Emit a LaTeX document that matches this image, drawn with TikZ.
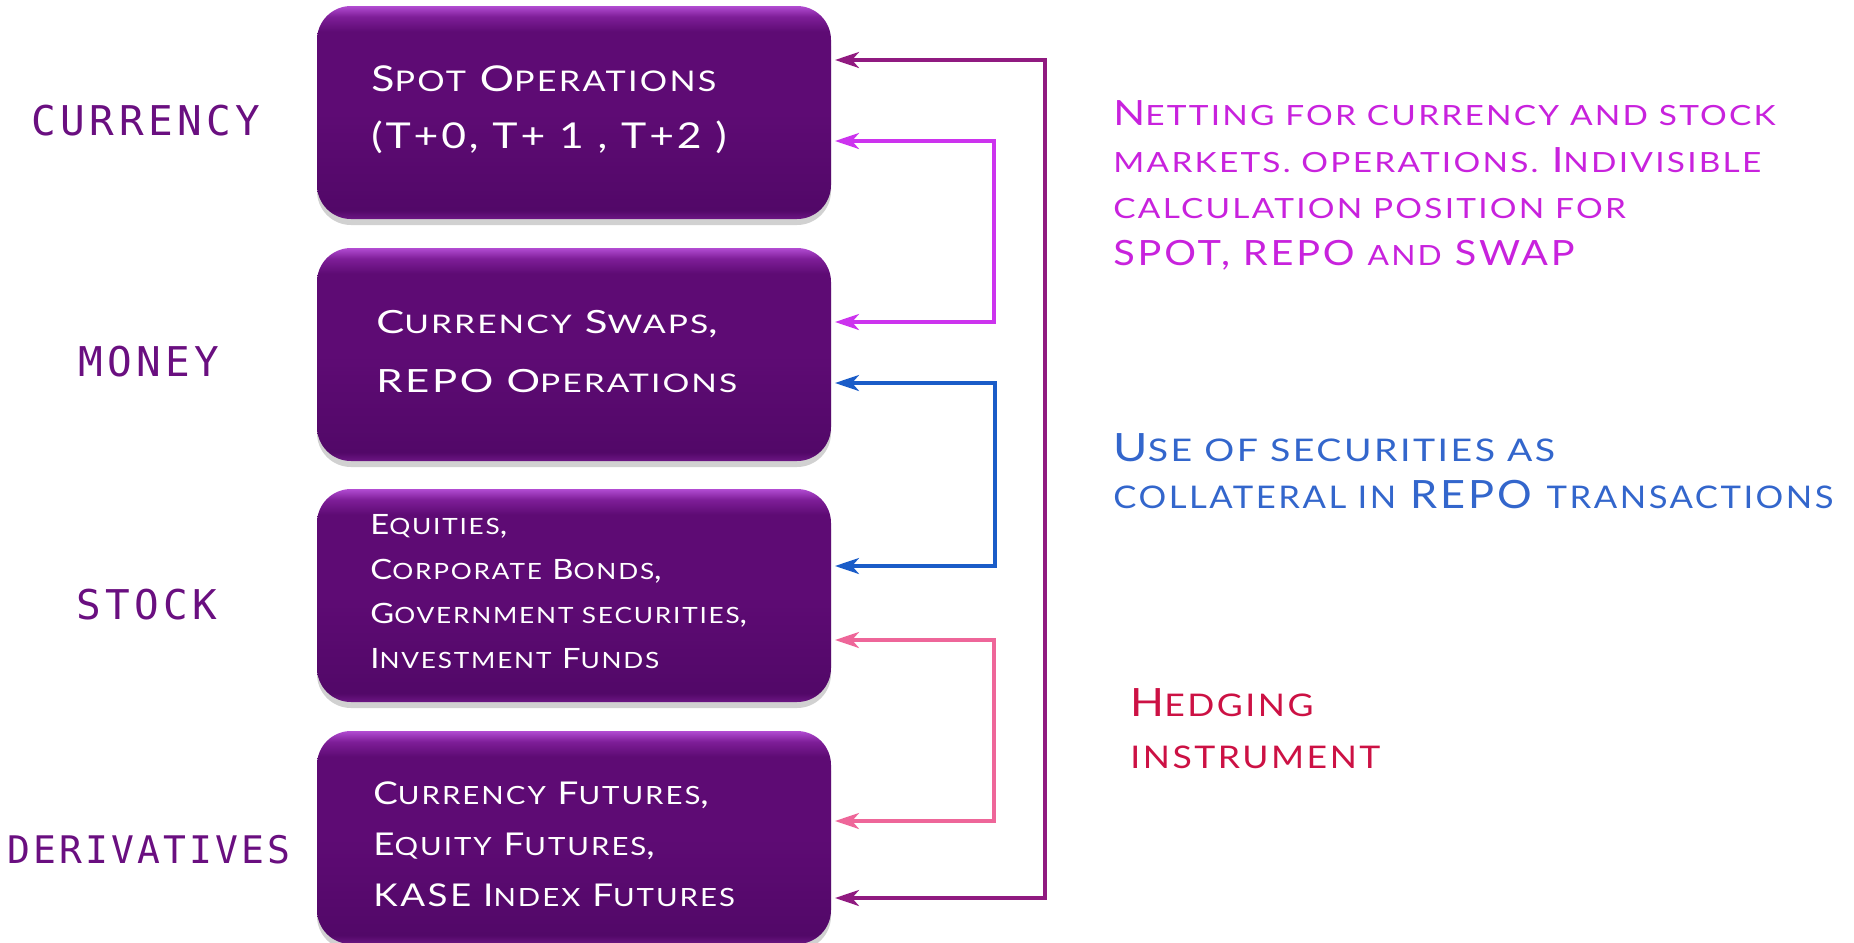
\documentclass[tikz,border=0pt]{standalone}
\usepackage{fontspec}
\usepackage{graphicx}
\setmainfont{Lato}
\newfontfamily\labelfont[LetterSpace=11]{DejaVu Sans Mono}
\newfontfamily\labelfontB[LetterSpace=8]{DejaVu Sans Mono}
\newfontfamily\fA[LetterSpace=8,FakeStretch=1.2]{Lato}
\newfontfamily\fB[LetterSpace=8,FakeStretch=1.31]{Lato}
\newfontfamily\fC[LetterSpace=8,FakeStretch=1.17]{Lato}
\newfontfamily\fF[LetterSpace=8,FakeStretch=1.14]{Lato}
\newfontfamily\fG[LetterSpace=8,FakeStretch=1.11]{Lato}
\usetikzlibrary{arrows.meta,shadows}
\newcommand\smc[1]{\scalebox{0.8}{\MakeUppercase{#1}}}
\definecolor{lblpurple}{HTML}{6A0F80}
\definecolor{outerc}{HTML}{901A80}
\definecolor{magc}{HTML}{CC33EE}
\definecolor{bluec}{HTML}{1A5CC8}
\definecolor{pinkc}{HTML}{EE6699}
\definecolor{nettext}{HTML}{C822DD}
\definecolor{usetext}{HTML}{3366CC}
\definecolor{hedgetext}{HTML}{CC1144}
\definecolor{bxA}{HTML}{B24CD2}
\definecolor{bxB}{HTML}{7E1E98}
\definecolor{bxC}{HTML}{5E0B74}
\definecolor{bxD}{HTML}{520868}
\definecolor{bxE}{HTML}{6C1684}
\pgfdeclareverticalshading{boxshade}{100bp}{color(0bp)=(bxE); color(25bp)=(bxE); color(27bp)=(bxD); color(50bp)=(bxC); color(69bp)=(bxC); color(72.5bp)=(bxB); color(75bp)=(bxA); color(100bp)=(bxA)}
\tikzset{
  mbox/.style={rounded corners=17pt, minimum width=257pt, minimum height=106.5pt,
    shade, shading=boxshade, inner sep=0pt, outer sep=2pt,
    drop shadow={shadow xshift=0pt, shadow yshift=-3pt, opacity=0.18, fill=black}},
  boxtxt/.style={text=white, align=left, anchor=north west, inner sep=0pt},
  sidetxt/.style={align=left, anchor=north west, inner sep=0pt},
  lbl/.style={text=lblpurple, inner sep=0pt, font=\labelfont\fontsize{20.5}{20.5}\selectfont},
  conn/.style={line width=1.75pt, {Stealth[length=12pt,width=8pt,inset=3.5pt]}-{Stealth[length=12pt,width=8pt,inset=3.5pt]}}
}
\begin{document}
\begin{tikzpicture}[x=0.5pt,y=-0.5pt]
\useasboundingbox (0,0) rectangle (1854,943);
\node[mbox] (box1) at (574,112.5) {};
\node[mbox] (box2) at (574,354.5) {};
\node[mbox] (box3) at (574,595.5) {};
\node[mbox] (box4) at (574,837.5) {};
\node[boxtxt, font={\fA\fontsize{17.8}{28.5}\selectfont}] (t1) at (371,65)
  {S\smc{pot} O\smc{perations}\\(T+0, T+ 1 , T+2 )};
\node[boxtxt, font={\fB\fontsize{16}{29.5}\selectfont}] (t2) at (376,310)
  {C\smc{urrency} S\smc{waps},\\REPO O\smc{perations}};
\node[boxtxt, font={\fC\fontsize{14}{22.35}\selectfont}] (t3) at (370,514)
  {E\smc{quities},\\C\smc{orporate} B\smc{onds},\\G\smc{overnment securities},\\I\smc{nvestment} F\smc{unds}};
\node[boxtxt, font={\fC\fontsize{15.7}{25.5}\selectfont}] (t4) at (373,781)
  {C\smc{urrency} F\smc{utures},\\E\smc{quity} F\smc{utures},\\KASE I\smc{ndex} F\smc{utures}};
\node[lbl] (lcur) at (146,121) {CURRENCY};
\node[lbl] (lmon) at (149,362) {MONEY};
\node[lbl] (lsto) at (147,605) {STOCK};
\node[lbl, font=\labelfontB\fontsize{19}{19}\selectfont] (lder) at (149,850) {DERIVATIVES};
\node[sidetxt, text=nettext, font={\fA\fontsize{17.4}{23.35}\selectfont}] (net) at (1113,100)
  {N\smc{etting for currency and stock}\\\smc{markets. operations.} I\smc{ndivisible}\\\smc{calculation position for}\\{\fF SPOT, REPO \smc{and} SWAP}};
\node[sidetxt, text=usetext, font={\fA\fontsize{19.5}{23.5}\selectfont}] (use) at (1113,433)
  {U\smc{se of securities as}\\{\fG\smc{collateral in} REPO \smc{transactions}}};
\node[sidetxt, text=hedgetext, font={\fF\fontsize{19.5}{26}\selectfont}] (hed) at (1130,688)
  {H\smc{edging}\\\smc{instrument}};
\coordinate (ot) at (1045,60);
\coordinate (ob) at (1045,898);
\coordinate (m1) at (994,141);
\coordinate (m2) at (994,322);
\coordinate (b1) at (995,383);
\coordinate (b2) at (995,566);
\coordinate (p1) at (994,640);
\coordinate (p2) at (994,821);
\draw[conn, outerc] (ot -| box1.east) -- (ot) -- (ob) -- (ob -| box4.east);
\draw[conn, magc] (m1 -| box1.east) -- (m1) -- (m2) -- (m2 -| box2.east);
\draw[conn, bluec] (b1 -| box2.east) -- (b1) -- (b2) -- (b2 -| box3.east);
\draw[conn, pinkc] (p1 -| box3.east) -- (p1) -- (p2) -- (p2 -| box4.east);
\end{tikzpicture}
\end{document}
